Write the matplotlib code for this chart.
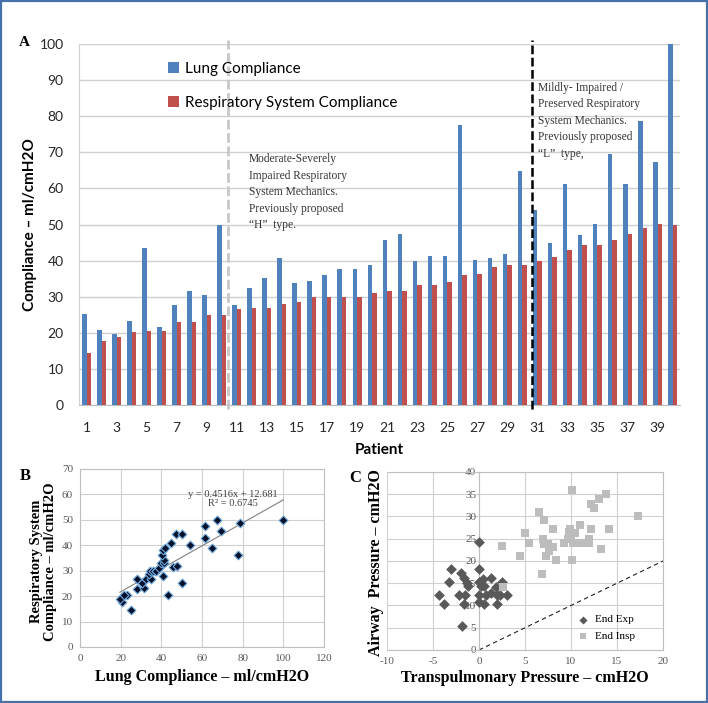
import matplotlib
matplotlib.use('Agg')
import matplotlib.pyplot as plt
from matplotlib.patches import Rectangle
import numpy as np

plt.rcParams['axes.unicode_minus'] = False

# panel A / B data: compliance per patient (ml/cmH2O)
patients = list(range(1, 41))
lung_compliance = [25.3, 20.7, 19.6, 23.3, 43.5, 21.5, 27.8, 31.6, 30.5, 50.0,
                   27.8, 32.5, 35.1, 40.8, 33.9, 34.4, 36.0, 37.6, 37.6, 38.9,
                   45.6, 47.5, 40.0, 41.2, 41.4, 77.5, 40.2, 40.6, 41.7, 64.8,
                   54.1, 45.0, 61.3, 47.1, 50.1, 69.4, 61.3, 78.6, 67.2, 100.0]
rs_compliance = [14.4, 17.6, 18.7, 20.3, 20.6, 20.6, 22.9, 23.1, 25.0, 25.0,
                 26.7, 26.9, 26.9, 28.0, 28.6, 30.0, 30.0, 30.0, 30.0, 31.0,
                 31.6, 31.7, 33.2, 33.2, 34.2, 36.0, 36.3, 38.2, 38.9, 38.9,
                 40.0, 40.9, 42.9, 44.4, 44.4, 45.6, 47.5, 48.9, 50.1, 50.0]
group_splits = [10.4, 30.65]

# trendline shown in panel B
slope = 0.4516
intercept = 12.681
r_squared = 0.6745

# panel C data: transpulmonary vs airway pressure (cmH2O)
exp_tp = [0, -3, 0, -2, -3.3, -4.4, -3.8, -1.8, -2.2, -1.5, -1.2, -1.6, -1.3, 0, 0.2,
          0.4, 1.3, 0, 0, 0.5, 0.8, 1.3, 2, 2.3, 2, 2.5, 3, 1.9, -1.6, 0.5]
exp_aw = [24.2, 18.3, 18.3, 17.2, 15.3, 12.3, 10.3, 5.3, 12.3, 12.3, 14.3, 16.2, 15, 15.3, 14.3,
          16, 16.2, 12.3, 10.7, 10.3, 12.3, 12.7, 12.3, 12.3, 10.3, 15.3, 12.3, 14.2, 10.3, 14.3]
insp_tp = [10.1, 13.8, 13.1, 12.2, 12.5, 6.5, 17.3, 7.1, 11.0, 5.0, 8.1, 9.9, 10.4,
           12.2, 14.1, 5.4, 7.0, 7.1, 7.5, 9.2, 9.7, 10.2, 10.8, 11.1, 12.0, 12.0,
           2.5, 8.0, 7.6, 13.3, 4.5, 7.3, 8.4, 10.1, 6.9, 2.6, 10.0, 9.8]
insp_aw = [36.0, 35.0, 34.0, 32.8, 32.0, 31.0, 30.1, 29.2, 28.0, 26.2, 27.1, 27.1, 26.2,
           27.1, 27.1, 24.1, 25.0, 23.9, 23.9, 24.1, 25.0, 24.1, 24.1, 24.1, 25.0, 24.1,
           23.4, 23.2, 22.3, 22.6, 21.1, 21.1, 20.2, 20.2, 17.0, 14.2, 25.8, 26.5]

SANS = 'Lato'
SERIF = 'Liberation Serif'
BLUE = '#4f81bd'
RED = '#c0504d'
GRID = '#d0d0d0'

fig = plt.figure(figsize=(7.08, 7.03), dpi=100)

# ---------------- panel A ----------------
axA = fig.add_axes([0.1116, 0.4239, 0.849, 0.5135])
x = np.array(patients)
axA.bar(x - 0.15, lung_compliance, width=0.3, color=BLUE, label='Lung Compliance', zorder=3)
axA.bar(x + 0.15, rs_compliance, width=0.3, color=RED, label='Respiratory System Compliance', zorder=3)
axA.set_xlim(0.5, 40.5)
axA.set_ylim(0, 100)
axA.set_yticks(range(0, 101, 10))
axA.set_xticks(patients[::2])
axA.yaxis.grid(True, color=GRID, lw=1, zorder=0)
for s in ['top', 'right']:
    axA.spines[s].set_visible(False)
axA.spines['left'].set_color(GRID)
axA.spines['bottom'].set_color('#bfbfbf')
axA.tick_params(length=0, labelsize=10, labelcolor='#262626')
axA.tick_params(axis='y', pad=11)
axA.tick_params(axis='x', pad=12)
for lab in axA.get_xticklabels() + axA.get_yticklabels():
    lab.set_fontfamily(SANS)
axA.set_ylabel('Compliance – ml/cmH2O', fontfamily=SANS, fontweight='bold', fontsize=11)
axA.yaxis.set_label_coords(-0.07, 0.5)
axA.set_xlabel('Patient', fontfamily=SANS, fontweight='bold', fontsize=11)
axA.xaxis.set_label_coords(0.5, -0.105)

axA.axvline(group_splits[0], ymin=-0.01, ymax=1.01, color='#c8c8c8', lw=2,
            ls=(0, (3.5, 1.3)), clip_on=False, zorder=4)
axA.axvline(group_splits[1], ymin=-0.01, ymax=1.01, color='black', lw=1.8,
            ls=(0, (3.5, 1.4)), clip_on=False, zorder=4)

leg = axA.legend(loc='upper left', bbox_to_anchor=(0.148, 0.95), frameon=False,
                 borderpad=0, borderaxespad=0, handlelength=0.7, handleheight=0.7,
                 handletextpad=0.4, labelspacing=1.3,
                 prop={'family': SANS, 'size': 11})

axA.text(0.283, 0.697, 'Moderate-Severely\nImpaired Respiratory\nSystem Mechanics.\nPreviously proposed\n“H”  type.',
         transform=axA.transAxes, fontfamily=SERIF, fontsize=8.3, color='#333333',
         va='top', ha='left', linespacing=1.5)
axA.text(0.764, 0.895, 'Mildly- Impaired /\nPreserved Respiratory\nSystem Mechanics.\nPreviously proposed\n“L”  type,',
         transform=axA.transAxes, fontfamily=SERIF, fontsize=8.3, color='#333333',
         va='top', ha='left', linespacing=1.5)

# ---------------- panel B ----------------
axB = fig.add_axes([0.113, 0.0797, 0.3446, 0.2532])
axB.scatter(lung_compliance, rs_compliance, marker='D', s=20, c='#06122b',
            edgecolors='#6fa8dc', linewidths=0.8, zorder=3)
xs = np.array([min(lung_compliance), max(lung_compliance)])
axB.plot(xs, slope * xs + intercept, color='#808080', lw=0.8, zorder=2)
axB.set_xlim(0, 120)
axB.set_ylim(0, 70)
axB.set_xticks(range(0, 121, 20))
axB.set_yticks(range(0, 71, 10))
axB.grid(True, color=GRID, lw=0.8, zorder=0)
for s in axB.spines.values():
    s.set_color('#bfbfbf')
    s.set_linewidth(0.8)
axB.tick_params(length=0, labelsize=8, labelcolor='#595959', pad=5)
for lab in axB.get_xticklabels() + axB.get_yticklabels():
    lab.set_fontfamily(SERIF)
axB.text(0.627, 0.83, 'y = %.4fx + %.3f\nR² = %.4f' % (slope, intercept, r_squared),
         transform=axB.transAxes, fontfamily=SERIF, fontsize=7.5, color='#404040',
         ha='center', va='center', linespacing=1.0)
axB.set_ylabel('Respiratory System\nCompliance – ml/cmH2O', fontfamily=SERIF,
               fontweight='bold', fontsize=10.5, linespacing=1.05)
axB.yaxis.set_label_coords(-0.095, 0.48)
axB.set_xlabel('Lung Compliance – ml/cmH2O', fontfamily=SERIF, fontweight='bold', fontsize=11.5)
axB.xaxis.set_label_coords(0.5, -0.125)

# ---------------- panel C ----------------
axC = fig.add_axes([0.5466, 0.0754, 0.3898, 0.2532])
axC.plot([0, 20], [0, 20], color='#202020', lw=0.8, ls=(0, (4, 3)), zorder=2)
axC.scatter(exp_tp, exp_aw, marker='D', s=30, c='#595959', linewidths=0, zorder=3, label='End Exp')
axC.scatter(insp_tp, insp_aw, marker='s', s=38, c='#bdbdbd', linewidths=0, zorder=3, label='End Insp')
axC.set_xlim(-10, 20)
axC.set_ylim(0, 40)
axC.set_xticks(range(-10, 21, 5))
axC.set_yticks(range(0, 41, 5))
axC.grid(True, color=GRID, lw=0.8, zorder=0)
for s in axC.spines.values():
    s.set_color('#bfbfbf')
    s.set_linewidth(0.8)
axC.spines['left'].set_position(('data', 0))
axC.tick_params(length=0, labelsize=8, labelcolor='#595959')
axC.tick_params(axis='x', pad=5)
axC.tick_params(axis='y', pad=2)
for lab in axC.get_xticklabels() + axC.get_yticklabels():
    lab.set_fontfamily(SERIF)
axC.legend(loc='lower right', bbox_to_anchor=(0.92, 0.02), frameon=False,
           handletextpad=0.1, labelspacing=0.6, borderpad=0, markerscale=0.75,
           prop={'family': SERIF, 'size': 8})
axC.set_ylabel('Airway  Pressure – cmH2O', fontfamily=SERIF, fontweight='bold', fontsize=11.5)
axC.yaxis.set_label_coords(-0.01, 0.49)
axC.set_xlabel('Transpulmonary Pressure – cmH2O', fontfamily=SERIF, fontweight='bold', fontsize=11.5)
axC.xaxis.set_label_coords(0.5, -0.11)

# panel letters
fig.text(0.035, 0.939, 'A', fontfamily=SERIF, fontweight='bold', fontsize=11, ha='center', va='center')
fig.text(0.036, 0.323, 'B', fontfamily=SERIF, fontweight='bold', fontsize=12, ha='center', va='center')
fig.text(0.501, 0.32, 'C', fontfamily=SERIF, fontweight='bold', fontsize=12, ha='center', va='center')

# outer frame
fig.patches.append(Rectangle((0.002, 0.002), 0.996, 0.996, transform=fig.transFigure,
                             fill=False, edgecolor='#4670a8', lw=1.6))

fig.savefig('out.png', dpi=100)
